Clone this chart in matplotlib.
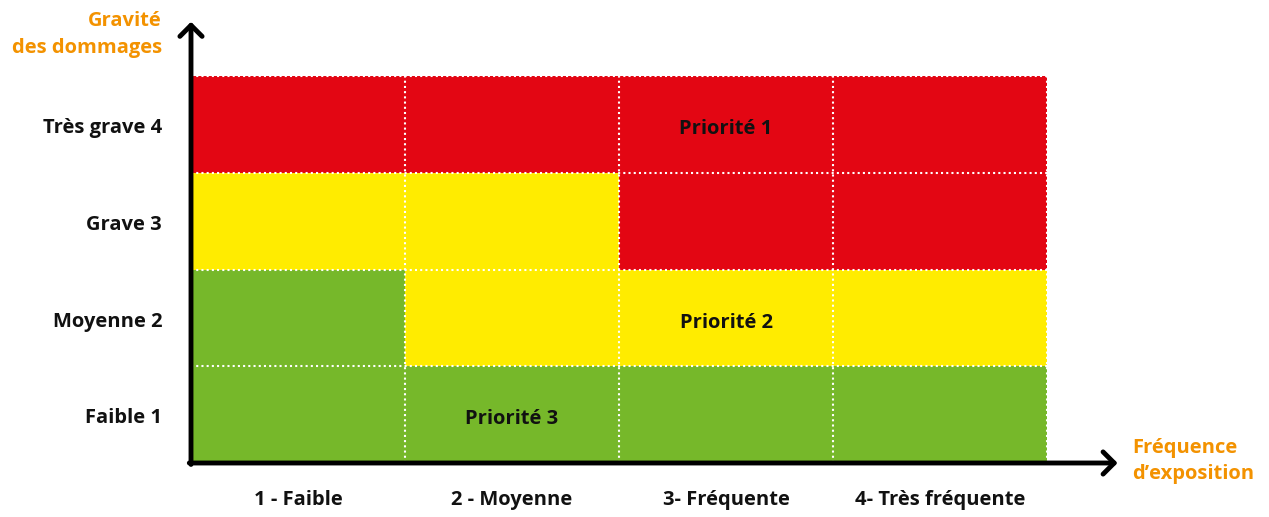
import numpy as np
import matplotlib.pyplot as plt
from matplotlib.colors import ListedColormap

# Données de la matrice de risque
frequences = ["1 - Faible", "2 - Moyenne", "3- Fréquente", "4- Très fréquente"]
gravites = ["Faible 1", "Moyenne 2", "Grave 3", "Très grave 4"]
# priorité par case (ligne = gravité du bas vers le haut, colonne = fréquence)
priorites = [
    [3, 3, 3, 3],
    [3, 2, 2, 2],
    [2, 2, 1, 1],
    [1, 1, 1, 1],
]
etiquettes = [("Priorité 1", 2, 3), ("Priorité 2", 2, 1), ("Priorité 3", 1, 0)]

couleurs = ListedColormap(["#E30613", "#FFEC00", "#76B82A"])
orange = "#F39200"
plt.rcParams['font.family'] = ['Open Sans', 'DejaVu Sans']
taille = 14.5

fig = plt.figure(figsize=(12.69, 5.17), dpi=100)
ax = fig.add_axes([191 / 1269, 54 / 517, 856 / 1269, 387 / 517])

z = np.array(priorites)
ax.pcolormesh(np.arange(5), np.arange(5), z, cmap=couleurs, vmin=0.5, vmax=3.5)

# lignes pointillées blanches entre les cases
for k in range(1, 5):
    ax.axvline(k, color="white", lw=1.5, ls=(0, (1, 1.5)))
    ax.axhline(k, color="white", lw=1.5, ls=(0, (1, 1.5)))

for texte, cx, cy in etiquettes:
    ax.text(cx + 0.5, cy + 0.45, texte, ha="center", va="center",
            fontsize=taille, fontweight="bold", color="#111111")

ax.set_xlim(0, 4)
ax.set_ylim(0, 4)
for s in ax.spines.values():
    s.set_visible(False)
ax.set_xticks([])
ax.set_yticks([])

# axes fléchés
fl = dict(arrowstyle="->,head_length=0.8,head_width=0.8", color="black", lw=3.5,
          shrinkA=0, shrinkB=0, mutation_scale=10)
ax.annotate("", xy=(0, 4.56), xytext=(0, -0.015), arrowprops=fl, annotation_clip=False)
ax.annotate("", xy=(4.33, 0), xytext=(-0.008, 0), arrowprops=fl, annotation_clip=False)

# libellés des lignes et colonnes
for i, g in enumerate(gravites):
    ax.text(-0.135, i + 0.46, g, ha="right", va="center", fontsize=taille,
            fontweight="bold", color="#111111", clip_on=False)
for j, f in enumerate(frequences):
    ax.text(j + 0.5, -0.38, f, ha="center", va="center", fontsize=taille,
            fontweight="bold", color="#111111", clip_on=False)

# titres des axes
ax.text(-0.135, 4.43, "Gravité\ndes dommages", ha="right", va="center", fontsize=taille,
        fontweight="bold", color=orange, linespacing=1.45, clip_on=False)
ax.text(4.4, 0.02, "Fréquence\nd’exposition", ha="left", va="center", fontsize=taille,
        fontweight="bold", color=orange, linespacing=1.45, clip_on=False)

fig.savefig("out.png", dpi=100, facecolor="white")
